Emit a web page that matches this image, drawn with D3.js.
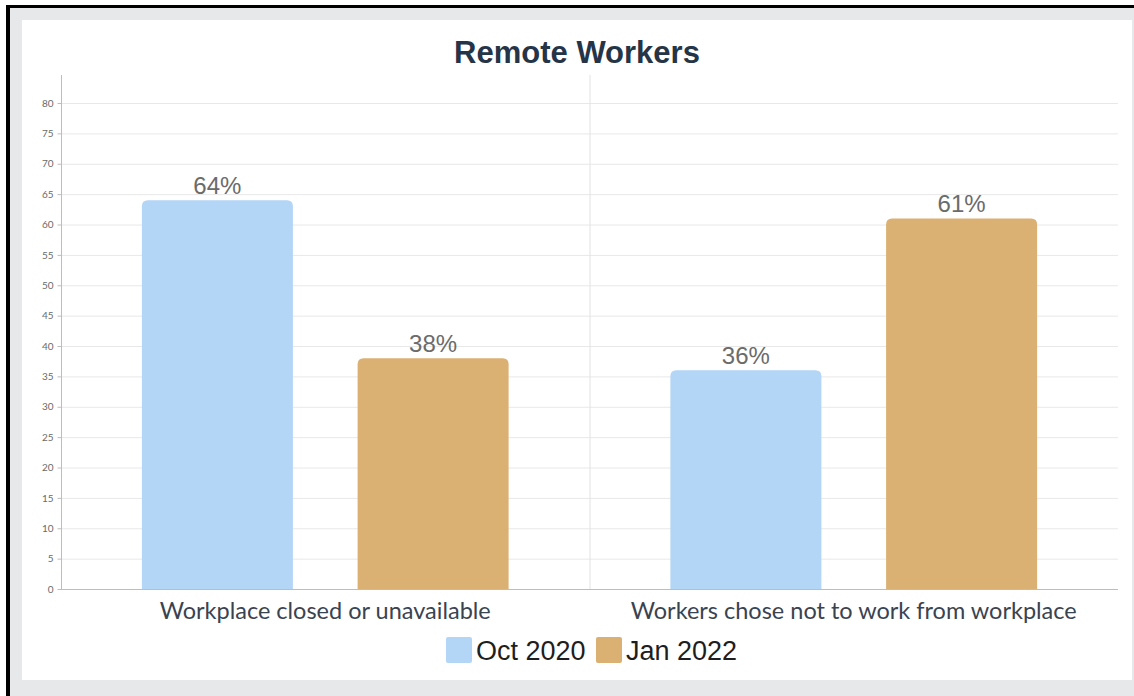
<!DOCTYPE html>
<html>
<head>
<meta charset="utf-8">
<script src="https://cdn.jsdelivr.net/npm/d3@7"></script>
<style>
  html, body { margin: 0; padding: 0; background: #ffffff; }
  svg { display: block; }
</style>
</head>
<body>
<svg id="chart" width="1134" height="696"></svg>
<script>
// Chart data
const categories = ["Workplace closed or unavailable", "Workers chose not to work from workplace"];
const seriesNames = ["Oct 2020", "Jan 2022"];
const oct2020 = [64, 36];
const jan2022 = [38, 61];
const yTicks = [0, 5, 10, 15, 20, 25, 30, 35, 40, 45, 50, 55, 60, 65, 70, 75, 80];
const colors = ["#b3d5f6", "#dbb073"];
const titleText = "Remote Workers";

const svg = d3.select("#chart");
const W = 1134, H = 696;

// Frame: black edges, grey surround, white panel
svg.append("rect").attr("x", 0).attr("y", 0).attr("width", W).attr("height", H).attr("fill", "#ffffff");
svg.append("rect").attr("x", 9).attr("y", 6).attr("width", W - 9).attr("height", H - 6).attr("fill", "#e7e8ea");
svg.append("rect").attr("x", 22).attr("y", 20).attr("width", 1110).attr("height", 660).attr("fill", "#ffffff");
svg.append("rect").attr("x", 6).attr("y", 5).attr("width", W - 6).attr("height", 3).attr("fill", "#000");
svg.append("rect").attr("x", 6).attr("y", 5).attr("width", 4).attr("height", H - 5).attr("fill", "#000");

// Plot area
const plot = { left: 61, right: 1118, top: 75, bottom: 589 };
const y = d3.scaleLinear().domain([0, 80]).range([plot.bottom, 103]);

const x0 = d3.scaleBand().domain(categories).range([plot.left, plot.right]).paddingInner(0).paddingOuter(0);
const x1 = d3.scaleBand().domain(seriesNames).range([0, x0.bandwidth()]).paddingInner(0.3).paddingOuter(0.375);

// Horizontal gridlines
svg.append("g").selectAll("line").data(yTicks.filter(d => d > 0)).join("line")
  .attr("x1", plot.left).attr("x2", plot.right)
  .attr("y1", d => y(d) + 0.5).attr("y2", d => y(d) + 0.5)
  .attr("stroke", "#e8e8e8").attr("stroke-width", 1);

// Vertical separator between categories
svg.append("line")
  .attr("x1", x0(categories[1]) + 0.5).attr("x2", x0(categories[1]) + 0.5)
  .attr("y1", plot.top).attr("y2", plot.bottom)
  .attr("stroke", "#e2e2e2");

// Y axis
const yAxis = d3.axisLeft(y).tickValues(yTicks).tickSize(4).tickPadding(4);
const gy = svg.append("g").attr("transform", `translate(${plot.left + 0.5},0)`).call(yAxis);
gy.select(".domain").attr("d", `M-0,${plot.bottom}V${plot.top}`).attr("stroke", "#bdbdbd");
gy.selectAll(".tick line").attr("stroke", "#bdbdbd");
gy.selectAll(".tick text").attr("fill", "#6a6a6a").attr("font-size", 10)
  .attr("font-family", "Lato, 'Liberation Sans', sans-serif");

// Bars with rounded top corners
function topRounded(xp, yp, w, h, r) {
  r = Math.min(r, h, w / 2);
  return `M${xp},${yp + h}V${yp + r}Q${xp},${yp} ${xp + r},${yp}H${xp + w - r}Q${xp + w},${yp} ${xp + w},${yp + r}V${yp + h}Z`;
}
const rows = categories.map((c, i) => ({ cat: c, vals: [oct2020[i], jan2022[i]] }));
const groups = svg.append("g").selectAll("g").data(rows).join("g")
  .attr("transform", d => `translate(${x0(d.cat)},0)`);
groups.selectAll("path").data(d => d.vals.map((v, j) => ({ s: seriesNames[j], v, j }))).join("path")
  .attr("d", d => topRounded(x1(d.s), y(d.v), x1.bandwidth(), y(0) - y(d.v), 6))
  .attr("fill", d => colors[d.j]);
groups.selectAll("text").data(d => d.vals.map((v, j) => ({ s: seriesNames[j], v, j }))).join("text")
  .attr("x", d => x1(d.s) + x1.bandwidth() / 2)
  .attr("y", d => y(d.v) - 6)
  .attr("text-anchor", "middle")
  .attr("font-family", "'Liberation Sans', Arial, sans-serif")
  .attr("font-size", 24).attr("fill", "#6b6b6b")
  .text(d => d.v + "%");

// X axis line
svg.append("line").attr("x1", plot.left).attr("x2", plot.right)
  .attr("y1", plot.bottom + 0.5).attr("y2", plot.bottom + 0.5)
  .attr("stroke", "#bdbdbd");

// Category labels
svg.append("g").selectAll("text").data(categories).join("text")
  .attr("x", d => x0(d) + x0.bandwidth() / 2)
  .attr("y", 619)
  .attr("text-anchor", "middle")
  .attr("font-family", "Lato, sans-serif")
  .attr("font-size", 23.5).attr("fill", "#3a4350")
  .text(d => d);

// Title
svg.append("text").attr("x", 577).attr("y", 63).attr("text-anchor", "middle")
  .attr("font-family", "'Liberation Sans', Arial, sans-serif")
  .attr("font-weight", "bold").attr("font-size", 31).attr("fill", "#253446")
  .text(titleText);

// Legend
const legend = svg.append("g");
const legendX = [446, 596];
seriesNames.forEach((s, i) => {
  legend.append("rect").attr("x", legendX[i]).attr("y", 637).attr("width", 26).attr("height", 26)
    .attr("rx", 2).attr("fill", colors[i]);
  legend.append("text").attr("x", legendX[i] + 30).attr("y", 660)
    .attr("font-family", "'Liberation Sans', Arial, sans-serif")
    .attr("font-size", 27).attr("fill", "#1e1e1e")
    .text(s);
});
</script>
</body>
</html>
